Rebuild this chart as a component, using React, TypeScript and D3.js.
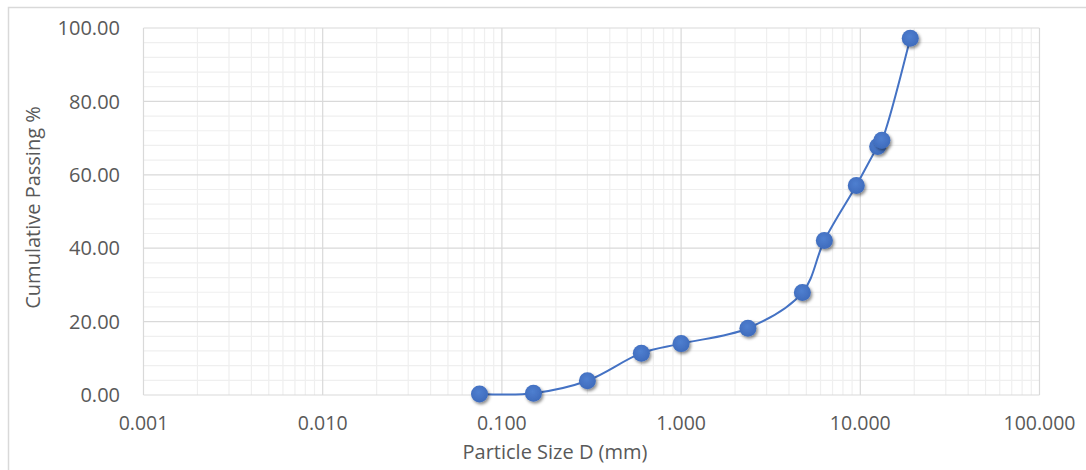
import React from 'react';
import * as d3 from 'd3';

// sieve sizes (mm) and cumulative passing (%)
const sizes = [0.075, 0.15, 0.3, 0.6, 1.0, 2.36, 4.75, 6.3, 9.5, 12.5, 13.2, 19.0];
const passing = [0.3, 0.5, 3.9, 11.4, 14.0, 18.2, 27.9, 42.1, 57.1, 67.7, 69.4, 97.2];
const xTickValues = [0.001, 0.01, 0.1, 1, 10, 100];
const yTickValues = [0, 20, 40, 60, 80, 100];

const W = 1086;
const H = 470;
const plot = { left: 143.5, right: 1039.5, top: 28, bottom: 395 };
const font = '"Open Sans", "Liberation Sans", sans-serif';
const textColor = '#595959';

const App = () => {
  const x = d3.scaleLog().domain([0.001, 100]).range([plot.left, plot.right]);
  const y = d3.scaleLinear().domain([0, 100]).range([plot.bottom, plot.top]);

  const minorX = x.ticks().filter((t) => !xTickValues.some((v) => Math.abs(v - t) / v < 1e-6));
  const minorY = d3.range(0, 101, 4).filter((v) => v % 20 !== 0);

  const pts = sizes.map((s, i) => [x(s), y(passing[i])] as [number, number]);
  const line = d3.line().curve(d3.curveCatmullRom.alpha(0.5))(pts) || '';

  return (
    <svg
      width={W}
      height={H}
      style={{ position: 'absolute', left: 0, top: 0, background: '#fff' }}
      fontFamily={font}
    >
      <defs>
        <filter id="shadow" x="-50%" y="-50%" width="200%" height="200%">
          <feDropShadow dx="1.5" dy="2" stdDeviation="1.6" floodColor="#000" floodOpacity="0.45" />
        </filter>
        <radialGradient id="dot" cx="45%" cy="40%" r="60%">
          <stop offset="0%" stopColor="#4f7fd0" />
          <stop offset="100%" stopColor="#3e6bbc" />
        </radialGradient>
      </defs>

      <rect x={8.5} y={7.5} width={W + 20} height={H + 20} fill="none" stroke="#d9d9d9" strokeWidth={1.5} />

      {/* minor grid */}
      {minorX.map((t, i) => (
        <line key={'mx' + i} x1={x(t)} x2={x(t)} y1={plot.top} y2={plot.bottom} stroke="#efefef" strokeWidth={1.2} />
      ))}
      {minorY.map((t) => (
        <line key={'my' + t} x1={plot.left} x2={plot.right} y1={y(t)} y2={y(t)} stroke="#efefef" strokeWidth={1.2} />
      ))}
      {/* major grid */}
      {xTickValues.map((t) => (
        <line key={'gx' + t} x1={x(t)} x2={x(t)} y1={plot.top} y2={plot.bottom} stroke="#d9d9d9" strokeWidth={1.2} />
      ))}
      {yTickValues.map((t) => (
        <line key={'gy' + t} x1={plot.left} x2={plot.right} y1={y(t)} y2={y(t)} stroke="#d9d9d9" strokeWidth={1.2} />
      ))}

      {/* tick labels */}
      {yTickValues.map((t) => (
        <text key={'ly' + t} x={120} y={y(t)} dy="0.36em" textAnchor="end" fontSize={20} fill={textColor}>
          {t.toFixed(2)}
        </text>
      ))}
      {xTickValues.map((t) => (
        <text key={'lx' + t} x={x(t)} y={430} textAnchor="middle" fontSize={19.5} fill={textColor}>
          {t.toFixed(3)}
        </text>
      ))}

      <text x={555} y={459} textAnchor="middle" fontSize={20} fill={textColor}>
        Particle Size D (mm)
      </text>
      <text
        transform={`translate(40, ${(plot.top + plot.bottom) / 2 - 4}) rotate(-90)`}
        textAnchor="middle"
        fontSize={20}
        fill={textColor}
      >
        Cumulative Passing %
      </text>

      <path d={line} fill="none" stroke="#4472c4" strokeWidth={2} />
      {pts.map((p, i) => (
        <circle key={i} cx={p[0]} cy={p[1]} r={8.5} fill="url(#dot)" filter="url(#shadow)" />
      ))}
    </svg>
  );
};

export default App;
